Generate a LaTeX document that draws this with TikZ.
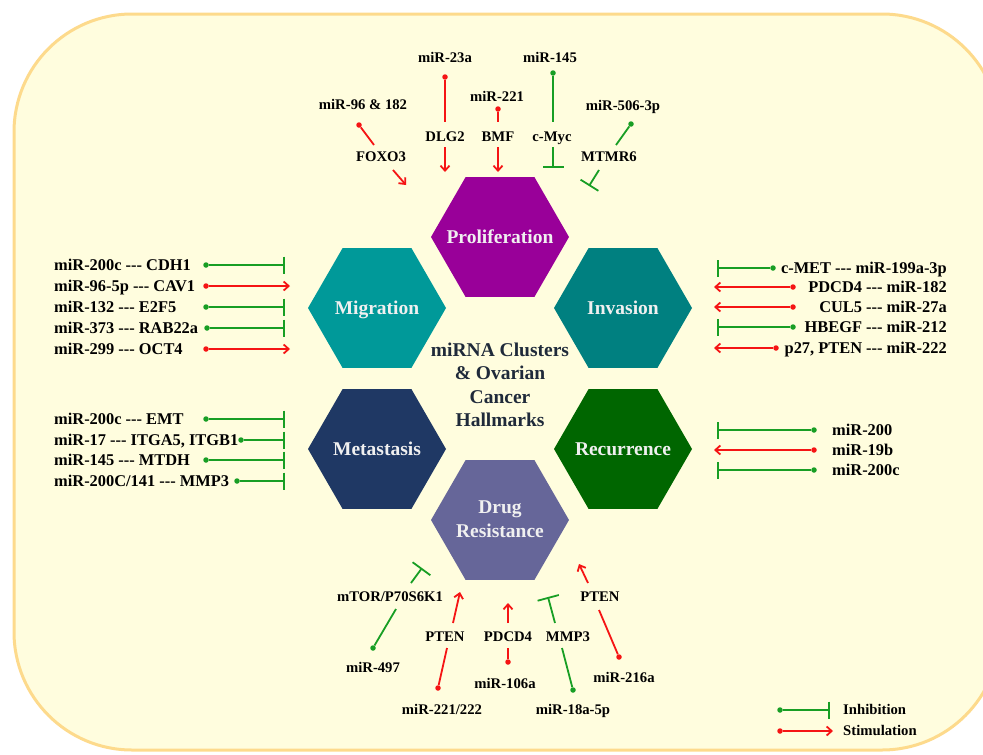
\documentclass[tikz,border=0pt]{standalone}
\usepackage{fontspec}
\setmainfont{Liberation Serif}[Ligatures=TeXOff]
\usetikzlibrary{arrows.meta}
\usetikzlibrary{shapes.geometric}
\usetikzlibrary{positioning}

\definecolor{paper}{RGB}{255,253,222}
\definecolor{rim}{RGB}{253,218,140}
\definecolor{inh}{RGB}{24,158,36}
\definecolor{stim}{RGB}{245,20,20}
\definecolor{prolifcol}{RGB}{153,0,153}
\definecolor{migcol}{RGB}{0,153,153}
\definecolor{invcol}{RGB}{0,128,128}
\definecolor{metcol}{RGB}{31,56,100}
\definecolor{reccol}{RGB}{0,102,0}
\definecolor{drugcol}{RGB}{102,102,153}
\definecolor{titlecol}{RGB}{31,42,58}

\begin{document}
\begin{tikzpicture}[
  x=1pt, y=-1pt,
  > = {Straight Barb[length=5pt,width=9pt]},
  dot/.style = {circle,inner sep=0pt,minimum size=5.5pt},
  hexa/.style = {regular polygon,regular polygon sides=6,minimum size=138pt,inner sep=0pt},
  hexlabel/.style = {text=white!94!black,font=\fontsize{19.5}{24}\selectfont\bfseries,
    align=center,inner sep=0pt},
  side/.style = {font=\fontsize{16.4}{18}\selectfont\bfseries,inner sep=0pt,text height=11pt,text depth=0pt},
  gene/.style = {font=\fontsize{14.7}{17}\selectfont\bfseries,inner sep=0pt,text height=9.7pt,text depth=0pt},
  inh link/.style = {draw=inh,line width=1.8pt},
  stim link/.style = {draw=stim,line width=1.8pt},
  inh/.style = {inh link,-{Bar[width=#1]}},
  inh/.default = 17pt,
  stim/.style = {stim link,->}
  ]
  \useasboundingbox (0,0) rectangle (983,755);
  \draw[rim,line width=3pt,fill=paper,rounded corners=118pt] (14,14) rectangle (1000,750);

  % hallmarks
  \node[font=\fontsize{19.5}{23.5}\selectfont\bfseries,text=titlecol,align=center,
    inner sep=0pt] (hub) at (500,385)
    {miRNA Clusters\\\& Ovarian\\Cancer\\Hallmarks};
  \node[hexa,fill=prolifcol] (prolif) at (500,237) {};
  \node[hexa,fill=migcol] (migr) at (377,308) {};
  \node[hexa,fill=invcol] (inva) at (623,308) {};
  \node[hexa,fill=metcol] (meta) at (377,449) {};
  \node[hexa,fill=reccol] (recu) at (623,449) {};
  \node[hexa,fill=drugcol] (drug) at (500,520) {};
  \node[hexlabel,text height=13pt,text depth=0pt] (prolifT) at (prolif) {Proliferation};
  \node[hexlabel,text height=13pt,text depth=0pt] (migrT) at (migr) {Migration};
  \node[hexlabel,text height=13pt,text depth=0pt] (invaT) at (inva) {Invasion};
  \node[hexlabel,text height=13pt,text depth=0pt] (metaT) at (meta) {Metastasis};
  \node[hexlabel,text height=13pt,text depth=0pt] (recuT) at (recu) {Recurrence};
  \node[hexlabel] (drugT) at (500,519) {Drug\\Resistance};

  % migration
  \foreach \y/\k/\d/\e/\t [count=\i] in {
    265/inh/206/285/{miR-200c --- CDH1},
    286/stim/206/290/{miR-96-5p --- CAV1},
    307/inh/206/285/{miR-132 --- E2F5},
    328/inh/207/285/{miR-373 --- RAB22a},
    349/stim/206/290/{miR-299 --- OCT4}}{
    \node[side,anchor=west] (migT\i) at (54,\y) {\t};
    \node[dot,fill=\k] (migD\i) at (\d,\y) {};
    \coordinate (migE\i) at (\e,\y);
    \draw[\k] (migD\i) -- (migE\i);
  }

  % metastasis
  \foreach \y/\d/\t [count=\i] in {
    419/206/{miR-200c --- EMT},
    440/241/{miR-17 --- ITGA5, ITGB1},
    460/206/{miR-145 --- MTDH},
    481/237/{miR-200C/141 --- MMP3}}{
    \node[side,anchor=west] (metT\i) at (54,\y) {\t};
    \node[dot,fill=inh] (metD\i) at (\d,\y) {};
    \coordinate (metE\i) at (285,\y);
    \draw[inh] (metD\i) -- (metE\i);
  }

  % invasion
  \foreach \y/\k/\d/\e/\t [count=\i] in {
    268/inh/773/717/{c-MET --- miR-199a-3p},
    287/stim/793/714/{PDCD4 --- miR-182},
    307/stim/793/714/{CUL5 --- miR-27a},
    327/inh/793/717/{HBEGF --- miR-212},
    348/stim/776/714/{p27, PTEN --- miR-222}}{
    \node[side,anchor=east] (invT\i) at (947,\y) {\t};
    \node[dot,fill=\k] (invD\i) at (\d,\y) {};
    \coordinate (invE\i) at (\e,\y);
    \draw[\k] (invD\i) -- (invE\i);
  }

  % recurrence
  \foreach \y/\k/\e/\t [count=\i] in {
    430/inh/717/{miR-200},
    450/stim/714/{miR-19b},
    470/inh/717/{miR-200c}}{
    \node[side,anchor=west] (recT\i) at (832,\y) {\t};
    \node[dot,fill=\k] (recD\i) at (814,\y) {};
    \coordinate (recE\i) at (\e,\y);
    \draw[\k] (recD\i) -- (recE\i);
  }

  % proliferation
  \node[gene] (mir96) at (363,105) {miR-96 \& 182};
  \node[dot,fill=stim] (mir96D) at (359,125) {};
  \coordinate (mir96E) at (374,145);
  \node[gene] (foxo) at (381,157) {FOXO3};
  \coordinate (foxoS) at (393,170);
  \coordinate (foxoE) at (406,185);
  \draw[stim link] (mir96D) -- (mir96E);
  \draw[stim] (foxoS) -- (foxoE);

  \node[gene] (mir23) at (445,58) {miR-23a};
  \node[dot,fill=stim] (mir23D) at (445,77) {};
  \coordinate (mir23E) at (445,122);
  \node[gene] (dlg) at (445,137) {DLG2};
  \coordinate (dlgS) at (445,147);
  \coordinate (dlgE) at (445,172);
  \draw[stim link] (mir23D) -- (mir23E);
  \draw[stim] (dlgS) -- (dlgE);

  \node[gene] (mir221) at (497,97) {miR-221};
  \node[dot,fill=stim] (mir221D) at (498,109) {};
  \coordinate (mir221E) at (498,122);
  \node[gene] (bmf) at (498,137) {BMF};
  \coordinate (bmfS) at (498,147);
  \coordinate (bmfE) at (498,172);
  \draw[stim link] (mir221D) -- (mir221E);
  \draw[stim] (bmfS) -- (bmfE);

  \node[gene] (mir145) at (550,58) {miR-145};
  \node[dot,fill=inh] (mir145D) at (553,73) {};
  \coordinate (mir145E) at (553,122);
  \node[gene] (myc) at (552,137) {c-Myc};
  \coordinate (mycS) at (553,147);
  \coordinate (mycE) at (553,168);
  \draw[inh link] (mir145D) -- (mir145E);
  \draw[inh=21pt] (mycS) -- (mycE);

  \node[gene] (mir506) at (623,106) {miR-506-3p};
  \node[dot,fill=inh] (mir506D) at (631,124) {};
  \coordinate (mir506E) at (616,145);
  \node[gene] (mtmr) at (609,157) {MTMR6};
  \coordinate (mtmrS) at (599,170);
  \coordinate (mtmrE) at (589,186);
  \draw[inh link] (mir506D) -- (mir506E);
  \draw[inh=21pt] (mtmrS) -- (mtmrE);

  % drug resistance
  \node[gene] (mtor) at (390,597) {mTOR/P70S6K1};
  \node[gene] (mir497) at (373,668) {miR-497};
  \node[dot,fill=inh] (mir497D) at (373,648) {};
  \coordinate (mir497E) at (396,609);
  \coordinate (mtorS) at (411,583);
  \coordinate (mtorE) at (422,568);
  \draw[inh link] (mir497D) -- (mir497E);
  \draw[inh=22pt] (mtorS) -- (mtorE);

  \node[gene] (ptenL) at (445,637) {PTEN};
  \node[gene] (mir222) at (442,710) {miR-221/222};
  \node[dot,fill=stim] (mir222D) at (438,688) {};
  \coordinate (mir222E) at (447,648);
  \coordinate (ptenLS) at (453,623);
  \coordinate (ptenLE) at (460,592);
  \draw[stim link] (mir222D) -- (mir222E);
  \draw[stim] (ptenLS) -- (ptenLE);

  \node[gene] (pdcd) at (508,637) {PDCD4};
  \node[gene] (mir106) at (505,684) {miR-106a};
  \node[dot,fill=stim] (mir106D) at (508,662) {};
  \coordinate (mir106E) at (508,648);
  \coordinate (pdcdS) at (508,623);
  \coordinate (pdcdE) at (508,603);
  \draw[stim link] (mir106D) -- (mir106E);
  \draw[stim] (pdcdS) -- (pdcdE);

  \node[gene] (mmp) at (568,637) {MMP3};
  \node[gene] (mir18) at (573,710) {miR-18a-5p};
  \node[dot,fill=inh] (mir18D) at (573,690) {};
  \coordinate (mir18E) at (562,648);
  \coordinate (mmpS) at (555,623);
  \coordinate (mmpE) at (548,597);
  \draw[inh link] (mir18D) -- (mir18E);
  \draw[inh=22pt] (mmpS) -- (mmpE);

  \node[gene] (ptenR) at (600,597) {PTEN};
  \node[gene] (mir216) at (624,678) {miR-216a};
  \node[dot,fill=stim] (mir216D) at (619,657) {};
  \coordinate (mir216E) at (599,610);
  \coordinate (ptenRS) at (588,583);
  \coordinate (ptenRE) at (579,564);
  \draw[stim link] (mir216D) -- (mir216E);
  \draw[stim] (ptenRS) -- (ptenRE);

  % key
  \node[dot,fill=inh] (keyInhD) at (780,710) {};
  \coordinate (keyInhE) at (830,710);
  \draw[inh] (keyInhD) -- (keyInhE);
  \node[gene,anchor=west] (keyInh) at (843,710) {Inhibition};
  \node[dot,fill=stim] (keyStimD) at (780,731) {};
  \coordinate (keyStimE) at (833,731);
  \draw[stim] (keyStimD) -- (keyStimE);
  \node[gene,anchor=west] (keyStim) at (843,731) {Stimulation};

\end{tikzpicture}
\end{document}
